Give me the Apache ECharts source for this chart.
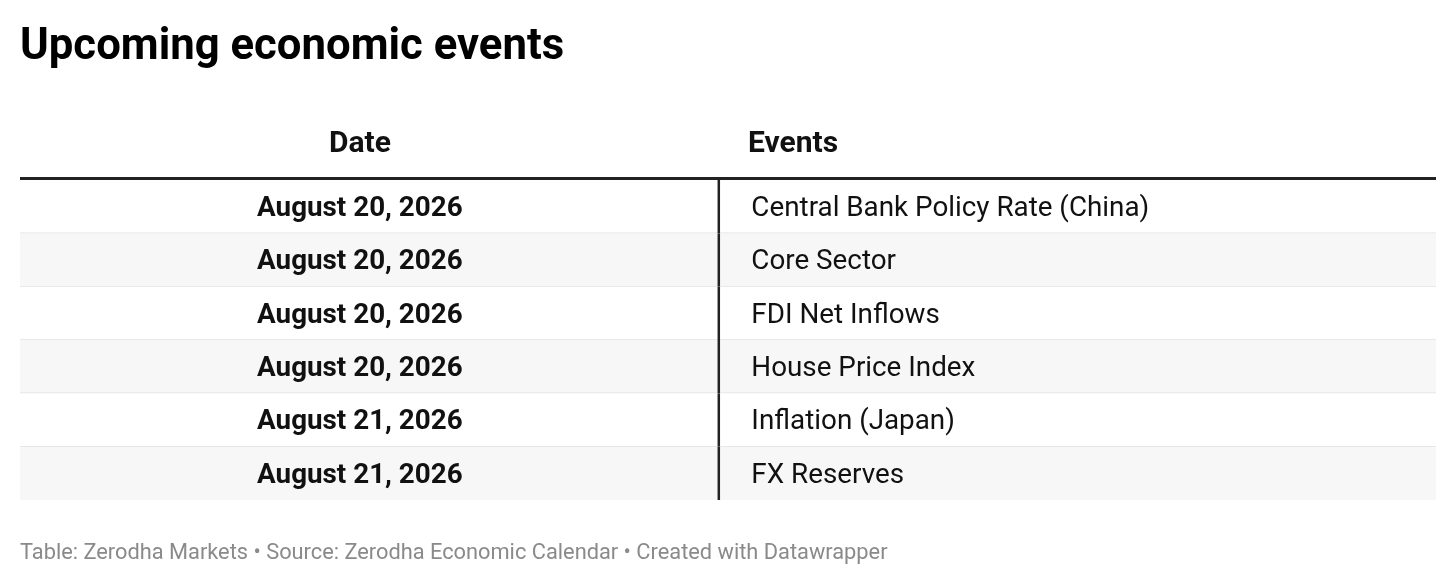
<!DOCTYPE html>
<html>
<head>
<meta charset="utf-8">
<script src="https://cdn.jsdelivr.net/npm/echarts@6/dist/echarts.min.js"></script>
<style>
html,body{margin:0;padding:0;background:#fff;}
#chart{width:1456px;height:585px;}
</style>
</head>
<body>
<div id="chart"></div>
<script>
// ---- data ----
var columnHeaders = ['Date', 'Events'];
var dates = ['August 20, 2026', 'August 20, 2026', 'August 20, 2026', 'August 20, 2026', 'August 21, 2026', 'August 21, 2026'];
var events = ['Central Bank Policy Rate (China)', 'Core Sector', 'FDI Net Inflows', 'House Price Index', 'Inflation (Japan)', 'FX Reserves'];
var titleText = 'Upcoming economic events';
var footerText = 'Table: Zerodha Markets \u2022 Source: Zerodha Economic Calendar \u2022 Created with Datawrapper';

// ---- layout ----
var FONT = 'Roboto, "Noto Sans", sans-serif';
var splitX = 0.4935;    // column divider as fraction of table width
var dateCenter = 0.240; // date column text centre (fraction)
var eventPad = 0.023;   // left padding for event text (fraction)
var textDy = 2.5;       // vertical nudge of cell text

var rowIdx = dates.map(function (d, i) { return i; });
var seriesData = rowIdx.map(function (i) { return [i]; });

var chart = echarts.init(document.getElementById('chart'), null, {renderer: 'canvas'});

var option = {
  backgroundColor: '#ffffff',
  animation: false,
  title: [
    { text: titleText, left: 20, top: 26, padding: 0,
      textStyle: { fontFamily: FONT, fontWeight: 'bold', fontSize: 43.7, color: '#000000' } },
    { text: footerText, left: 20, top: 543, padding: 0,
      textStyle: { fontFamily: FONT, fontWeight: 'normal', fontSize: 21.8, color: '#8a8a8a' } }
  ],
  grid: { left: 20, right: 20, top: 180, bottom: 85, containLabel: false },
  xAxis: { type: 'value', min: 0, max: 1, show: false },
  yAxis: { type: 'category', data: rowIdx.map(String), inverse: true, show: false, boundaryGap: true },
  series: [{
    type: 'custom',
    data: seriesData,
    encode: { y: 0 },
    renderItem: function (params, api) {
      var i = params.dataIndex;
      var left = api.coord([0, i]);
      var right = api.coord([1, i]);
      var bandH = api.size([0, 1])[1];
      var yTop = left[1] - bandH / 2;
      var x0 = left[0], x1 = right[0], w = x1 - x0;
      var xs = x0 + w * splitX;
      var children = [];
      children.push({ type: 'rect', shape: { x: x0, y: yTop, width: w, height: bandH },
        style: { fill: (i % 2 === 1) ? '#f7f7f7' : '#ffffff' } });
      if (i < dates.length - 1) {
        children.push({ type: 'line', shape: { x1: x0, y1: yTop + bandH, x2: x1, y2: yTop + bandH },
          style: { stroke: '#e2e2e2', lineWidth: 1.5 } });
      }
      children.push({ type: 'line', shape: { x1: xs, y1: yTop, x2: xs, y2: yTop + bandH },
        style: { stroke: '#222222', lineWidth: 2.5 } });
      children.push({ type: 'text', x: x0 + w * dateCenter, y: left[1] + textDy,
        style: { text: dates[i], fontFamily: FONT, fontWeight: 'bold', fontSize: 27.8,
          fill: '#111111', align: 'center', verticalAlign: 'middle' } });
      children.push({ type: 'text', x: xs + w * eventPad, y: left[1] + textDy,
        style: { text: events[i], fontFamily: FONT, fontWeight: 'normal', fontSize: 27.8,
          fill: '#111111', align: 'left', verticalAlign: 'middle' } });
      return { type: 'group', children: children };
    }
  }],
  graphic: [
    { type: 'text', x: 360, y: 144,
      style: { text: columnHeaders[0], fontFamily: FONT, fontWeight: 'bold', fontSize: 30, fill: '#111111',
        align: 'center', verticalAlign: 'middle' } },
    { type: 'text', x: 748, y: 144,
      style: { text: columnHeaders[1], fontFamily: FONT, fontWeight: 'bold', fontSize: 30, fill: '#111111',
        align: 'left', verticalAlign: 'middle' } },
    { type: 'rect', shape: { x: 20, y: 177, width: 1416, height: 3 }, style: { fill: '#222222' }, z: 10 }
  ]
};
chart.setOption(option);
</script>
</body>
</html>
